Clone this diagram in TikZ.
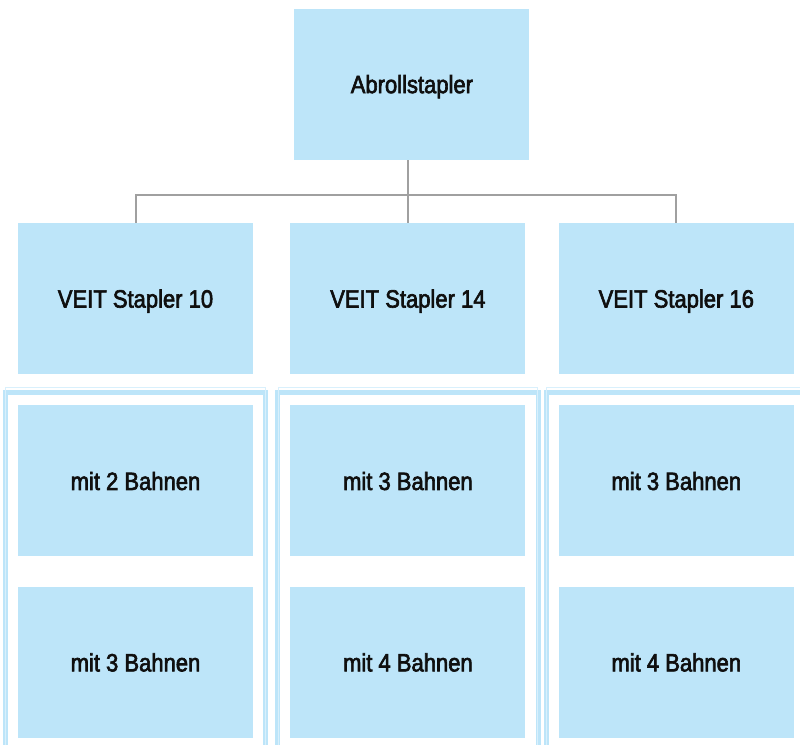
\documentclass[tikz,border=0pt]{standalone}
\usepackage{fontspec}
\setmainfont{Liberation Sans}[FakeStretch=0.88, FakeBold=2.5]
\usepackage{xcolor}
\usepackage{tikz}
\usetikzlibrary{positioning,fit}
\definecolor{cbox}{RGB}{189,229,249}
\definecolor{cline}{RGB}{217,240,252}
\definecolor{cconn}{RGB}{160,160,160}
\definecolor{ctext}{RGB}{15,15,15}
\tikzset{
  box/.style={fill=cbox, minimum width=235pt, minimum height=151pt, inner sep=0pt, text depth=0pt, text=ctext, font=\fontsize{25}{29}\selectfont},
  group/.style={draw=cbox, line width=5pt, inner sep=12.5pt},
  conn/.style={draw=cconn, line width=2pt}
}
\begin{document}
\begin{tikzpicture}[x=1pt, y=-1pt]
    \clip (0,0) rectangle (800,744);
    \useasboundingbox (0,0) rectangle (800,744);
    % Nodes
    \node[box] (vs10) at (135.5,298.5) {VEIT Stapler 10};
    \node[box, right=37pt of vs10] (vs14) {VEIT Stapler 14};
    \node[box, right=33pt of vs14] (vs16) {VEIT Stapler 16};
    \node[box, above=63pt of vs14, xshift=4pt] (top) {Abrollstapler};
    \node[box, below=31pt of vs10] (b10a) {mit 2 Bahnen};
    \node[box, below=30pt of b10a] (b10b) {mit 3 Bahnen};
    \node[box, below=31pt of vs14] (b14a) {mit 3 Bahnen};
    \node[box, below=30pt of b14a] (b14b) {mit 4 Bahnen};
    \node[box, below=31pt of vs16] (b16a) {mit 3 Bahnen};
    \node[box, below=30pt of b16a] (b16b) {mit 4 Bahnen};

    % Groups
    \node[group, fit=(b10a)(b10b)] (g10) {};
    \node[group, fit=(b14a)(b14b)] (g14) {};
    \node[group, fit=(b16a)(b16b)] (g16) {};
    \foreach \g in {g10,g14,g16}
      \draw[cline, line width=1pt] ([shift={(3pt,3pt)}]\g.north west) rectangle ([shift={(-3pt,-3pt)}]\g.south east);

    % Edges
    \draw[conn] (vs14.north) -- (vs14.north |- top.south);
    \draw[conn] (vs10.north) -- ++(0,-28) -| (vs16.north);
\end{tikzpicture}
\end{document}
